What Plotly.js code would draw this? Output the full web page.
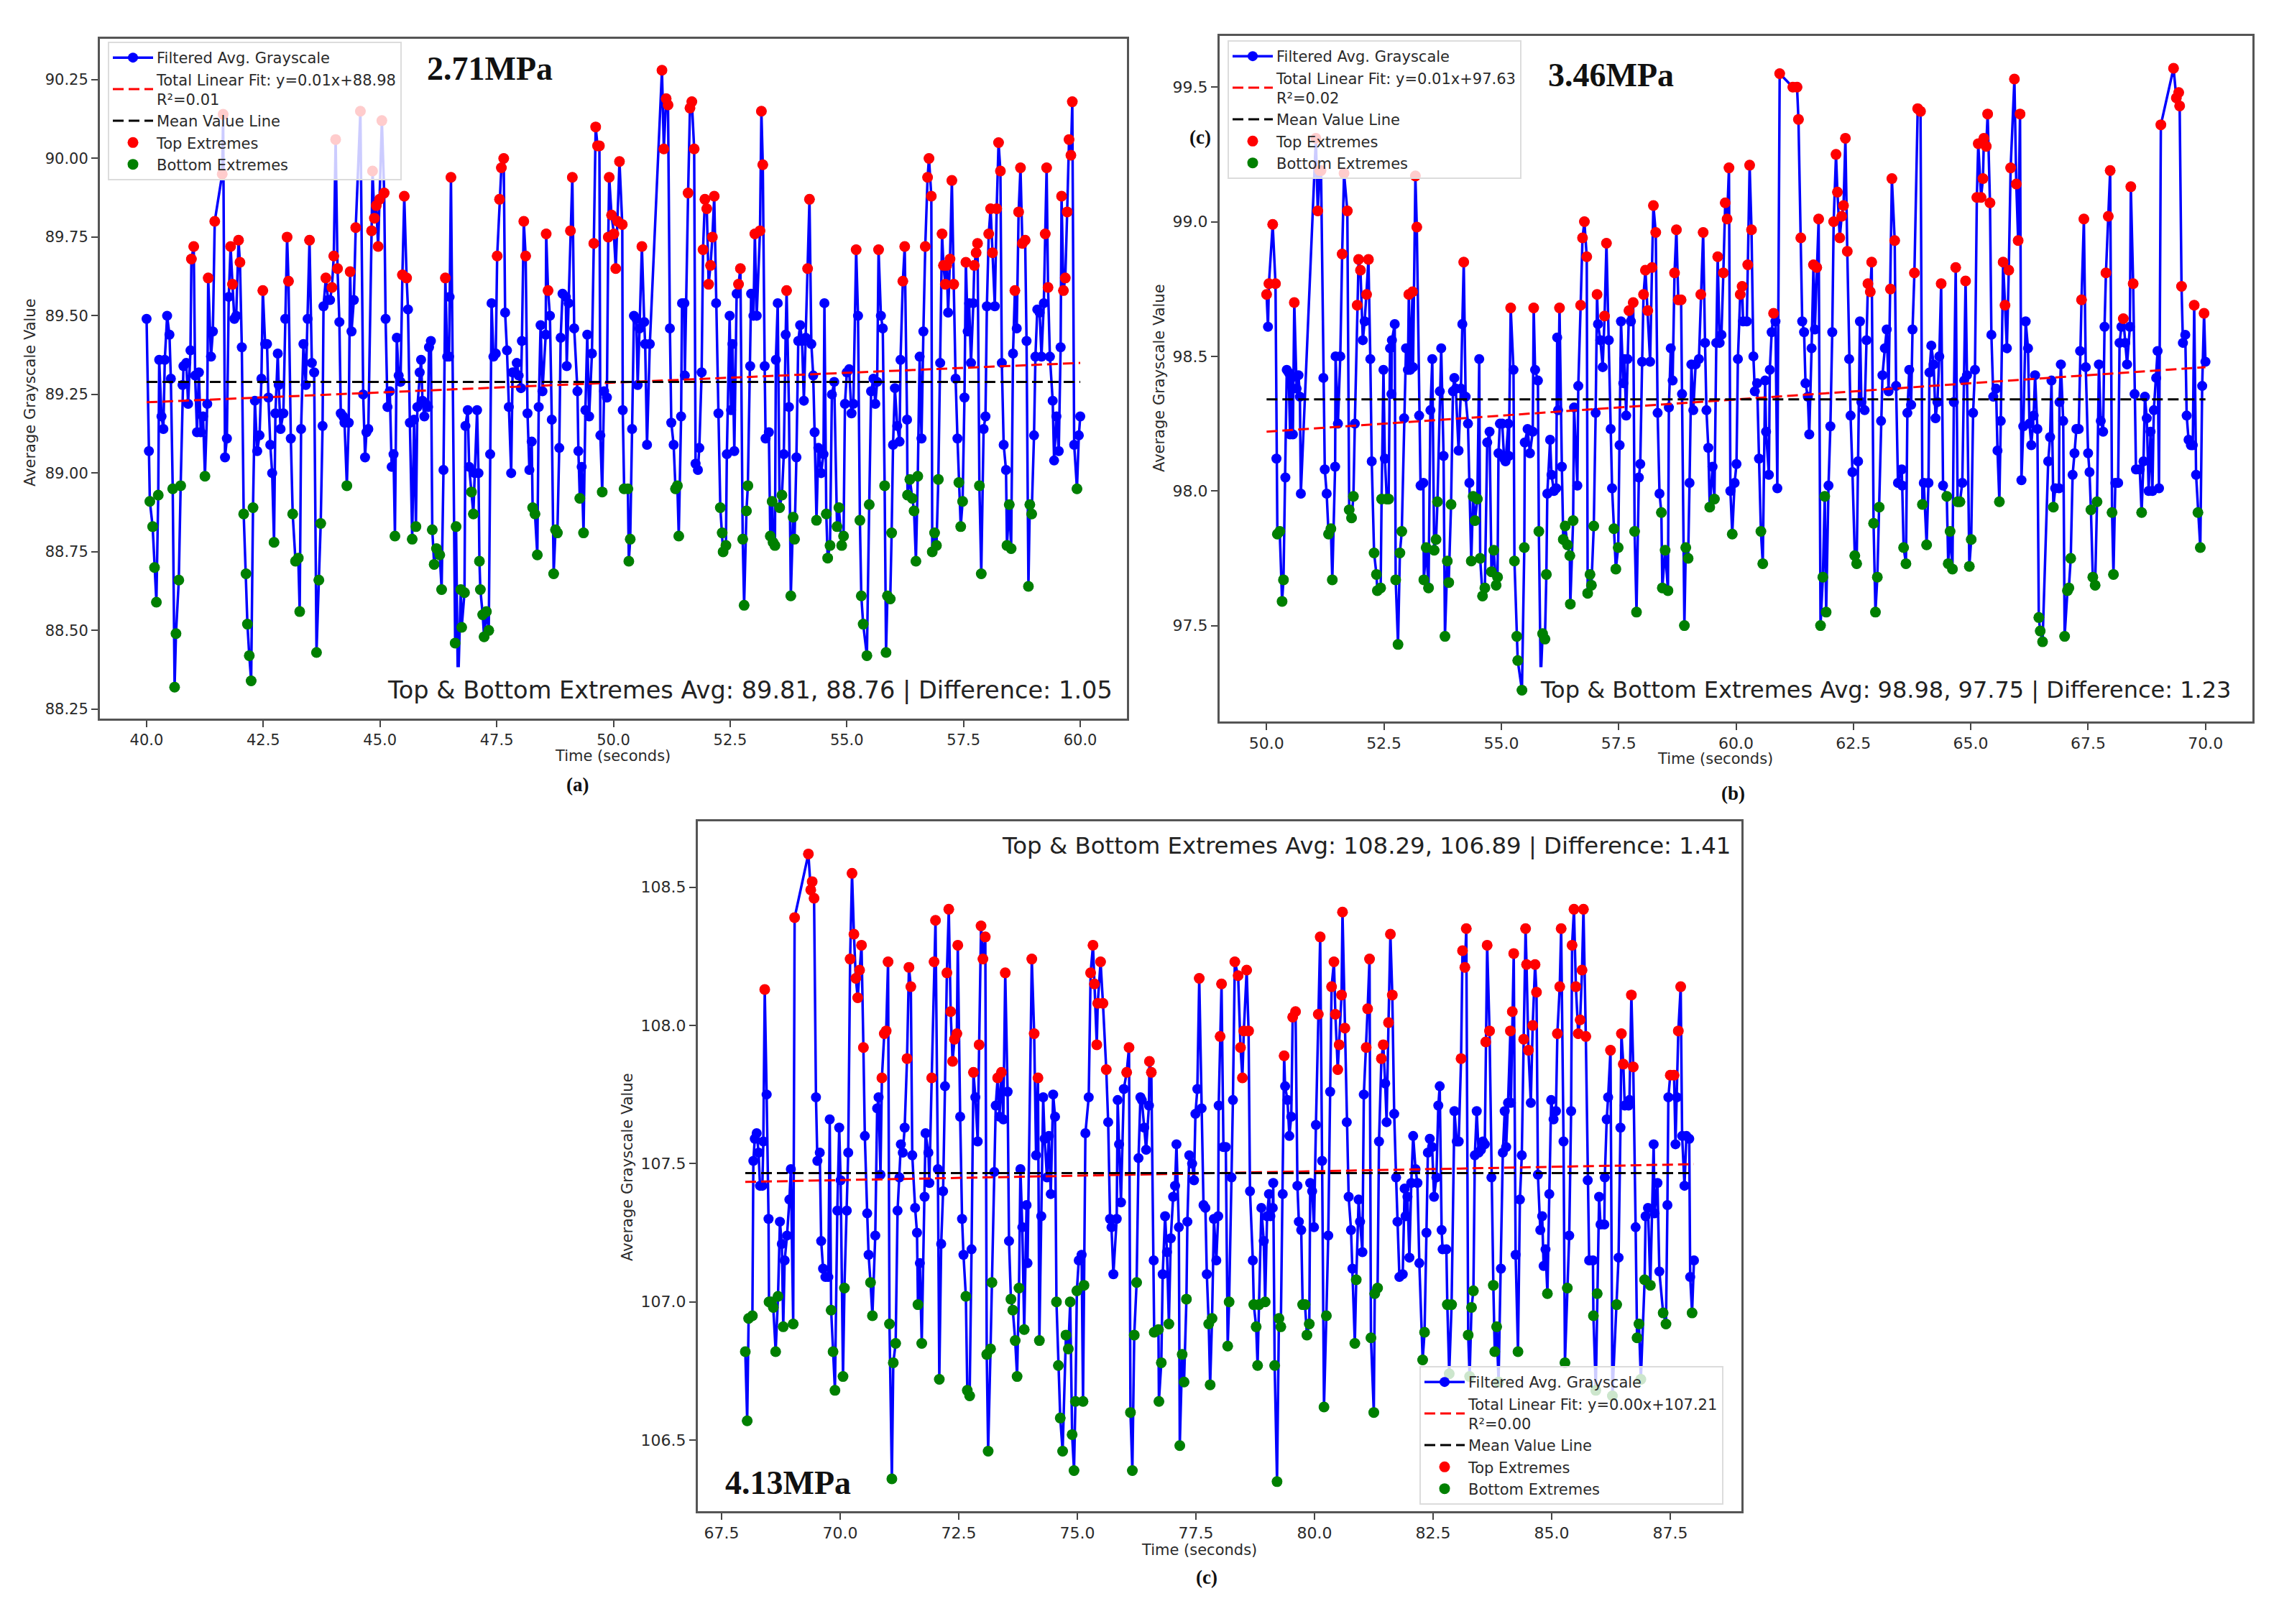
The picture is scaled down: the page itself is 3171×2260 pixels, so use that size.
<!DOCTYPE html>
<html><head><meta charset="utf-8">
<script src="https://cdn.plot.ly/plotly-3.0.1.min.js"></script>
<style>html,body{margin:0;padding:0;background:#fff}#chart{width:3171px;height:2260px}</style>
</head><body><div id="chart"></div>
<script>
const seriesA=[[40.00,89.49],[40.05,89.07],[40.07,88.91],[40.13,88.83],[40.17,88.70],[40.21,88.59],[40.25,88.93],[40.27,89.36],[40.32,89.18],[40.36,89.14],[40.39,89.36],[40.44,89.50],[40.49,89.44],[40.52,89.30],[40.56,88.95],[40.60,88.32],[40.63,88.49],[40.69,88.66],[40.73,88.96],[40.77,89.28],[40.79,89.34],[40.85,89.35],[40.89,89.22],[40.94,89.39],[40.96,89.68],[41.01,89.72],[41.04,89.31],[41.08,89.13],[41.12,89.32],[41.16,89.13],[41.21,89.18],[41.25,88.99],[41.30,89.22],[41.32,89.62],[41.38,89.37],[41.42,89.45],[41.46,89.80],[41.62,89.95],[41.64,90.14],[41.68,89.05],[41.72,89.11],[41.76,89.56],[41.80,89.72],[41.84,89.60],[41.88,89.49],[41.92,89.50],[41.97,89.74],[42.00,89.67],[42.04,89.40],[42.08,88.87],[42.13,88.68],[42.16,88.52],[42.20,88.42],[42.24,88.34],[42.28,88.89],[42.32,89.23],[42.37,89.07],[42.42,89.12],[42.46,89.30],[42.49,89.58],[42.54,89.41],[42.58,89.41],[42.61,89.24],[42.65,89.09],[42.69,89.00],[42.73,88.78],[42.76,89.19],[42.81,89.38],[42.83,89.28],[42.87,89.14],[42.93,89.19],[42.97,89.49],[43.01,89.75],[43.04,89.61],[43.09,89.11],[43.13,88.87],[43.19,88.72],[43.25,88.73],[43.28,88.56],[43.31,89.14],[43.36,89.41],[43.41,89.28],[43.45,89.49],[43.49,89.74],[43.54,89.35],[43.59,89.32],[43.64,88.43],[43.69,88.66],[43.73,88.84],[43.77,89.15],[43.79,89.53],[43.84,89.62],[43.89,89.55],[43.93,89.55],[43.97,89.59],[44.01,89.69],[44.05,90.06],[44.09,89.65],[44.13,89.48],[44.16,89.19],[44.21,89.18],[44.24,89.16],[44.29,88.96],[44.33,89.16],[44.36,89.64],[44.39,89.45],[44.44,89.55],[44.48,89.78],[44.58,90.15],[44.64,89.25],[44.68,89.05],[44.71,89.13],[44.75,89.14],[44.82,89.77],[44.84,89.96],[44.88,89.81],[44.92,89.85],[44.96,89.72],[44.99,89.87],[45.04,90.12],[45.09,89.89],[45.12,89.49],[45.16,89.21],[45.21,89.26],[45.25,89.02],[45.29,89.06],[45.32,88.80],[45.36,89.43],[45.40,89.31],[45.44,89.29],[45.48,89.63],[45.52,89.88],[45.57,89.62],[45.60,89.52],[45.64,89.16],[45.69,88.79],[45.73,89.17],[45.77,88.83],[45.80,89.21],[45.85,89.32],[45.88,89.36],[45.91,89.23],[45.95,89.18],[45.98,89.22],[46.03,89.21],[46.05,89.40],[46.09,89.42],[46.12,88.82],[46.16,88.71],[46.21,88.76],[46.28,88.74],[46.32,88.63],[46.36,89.01],[46.40,89.62],[46.44,89.37],[46.48,89.37],[46.49,89.56],[46.52,89.94],[46.61,88.46],[46.63,88.83],[46.67,88.30],[46.73,88.63],[46.75,88.51],[46.81,88.62],[46.83,89.15],[46.88,89.20],[46.91,89.02],[46.96,88.94],[47.00,88.87],[47.03,89.00],[47.08,89.20],[47.11,89.00],[47.13,88.72],[47.15,88.63],[47.20,88.55],[47.23,88.48],[47.28,88.56],[47.33,88.50],[47.36,89.06],[47.39,89.54],[47.43,89.37],[47.48,89.38],[47.51,89.69],[47.56,89.87],[47.60,89.97],[47.65,90.00],[47.68,89.51],[47.72,89.39],[47.76,89.21],[47.81,89.00],[47.84,89.32],[47.88,89.32],[47.93,89.35],[47.97,89.31],[48.02,89.27],[48.04,89.42],[48.08,89.80],[48.12,89.69],[48.16,89.19],[48.20,89.01],[48.25,89.10],[48.27,88.89],[48.32,88.87],[48.37,88.74],[48.40,89.21],[48.44,89.47],[48.48,89.26],[48.55,89.44],[48.56,89.76],[48.60,89.58],[48.64,89.50],[48.68,89.17],[48.72,88.68],[48.76,88.82],[48.80,88.81],[48.84,89.08],[48.87,89.43],[48.91,89.57],[48.98,89.56],[49.00,89.34],[49.04,89.54],[49.08,89.77],[49.12,89.94],[49.16,89.46],[49.23,89.26],[49.25,89.07],[49.28,88.92],[49.32,89.02],[49.36,88.81],[49.40,89.20],[49.44,89.44],[49.48,89.18],[49.54,89.38],[49.58,89.73],[49.62,90.10],[49.66,90.04],[49.70,90.04],[49.72,89.12],[49.76,88.94],[49.80,89.26],[49.86,89.24],[49.89,89.75],[49.91,89.94],[49.96,89.82],[50.01,89.76],[50.05,89.65],[50.09,89.80],[50.13,89.99],[50.19,89.79],[50.20,89.20],[50.23,88.95],[50.31,88.95],[50.33,88.72],[50.36,88.79],[50.40,89.14],[50.44,89.50],[50.49,89.49],[50.52,89.28],[50.56,89.46],[50.61,89.72],[50.66,89.48],[50.68,89.41],[50.72,89.09],[50.78,89.41],[51.04,90.28],[51.08,90.03],[51.13,90.19],[51.17,90.17],[51.21,89.46],[51.24,89.16],[51.29,89.09],[51.33,88.95],[51.37,88.96],[51.40,88.80],[51.45,89.18],[51.47,89.54],[51.52,89.54],[51.53,89.31],[51.60,89.89],[51.64,90.16],[51.68,90.18],[51.73,90.03],[51.76,89.03],[51.81,89.01],[51.84,89.08],[51.89,89.32],[51.92,89.71],[51.96,89.87],[52.00,89.84],[52.04,89.60],[52.08,89.66],[52.12,89.75],[52.16,89.88],[52.20,89.54],[52.25,89.19],[52.29,88.89],[52.33,88.81],[52.35,88.75],[52.41,88.77],[52.43,89.06],[52.49,89.50],[52.52,89.20],[52.55,89.41],[52.59,89.07],[52.64,89.57],[52.68,89.60],[52.72,89.65],[52.77,88.79],[52.80,88.58],[52.85,88.88],[52.88,88.96],[52.93,89.34],[52.95,89.57],[53.00,89.50],[53.03,89.76],[53.07,89.50],[53.14,89.77],[53.17,90.15],[53.20,89.98],[53.24,89.34],[53.26,89.11],[53.33,89.13],[53.36,88.80],[53.40,88.91],[53.42,88.78],[53.46,88.77],[53.48,89.36],[53.52,89.54],[53.56,88.89],[53.61,88.93],[53.65,89.06],[53.69,89.44],[53.71,89.58],[53.76,89.21],[53.80,88.61],[53.85,88.86],[53.88,88.79],[53.92,89.05],[53.96,89.42],[54.00,89.47],[54.04,89.42],[54.08,89.23],[54.12,89.43],[54.16,89.65],[54.20,89.87],[54.24,89.41],[54.28,89.31],[54.31,89.13],[54.35,88.85],[54.39,89.08],[54.45,89.00],[54.50,89.06],[54.52,89.54],[54.56,88.87],[54.59,88.73],[54.64,88.77],[54.68,89.25],[54.73,89.29],[54.79,88.83],[54.83,88.89],[54.89,88.77],[54.93,88.80],[54.96,89.22],[55.00,89.32],[55.05,89.33],[55.10,89.19],[55.14,89.22],[55.20,89.71],[55.24,89.50],[55.28,88.85],[55.31,88.61],[55.35,88.52],[55.43,88.42],[55.48,88.90],[55.52,89.26],[55.57,89.30],[55.61,89.22],[55.65,89.29],[55.68,89.71],[55.73,89.50],[55.77,89.46],[55.81,88.96],[55.84,88.43],[55.87,88.61],[55.93,88.60],[55.96,88.81],[55.99,89.09],[56.03,89.27],[56.08,89.15],[56.13,89.10],[56.15,89.36],[56.20,89.61],[56.24,89.72],[56.29,89.17],[56.30,88.93],[56.35,88.98],[56.40,88.92],[56.44,88.88],[56.48,88.72],[56.52,88.99],[56.56,89.37],[56.60,89.11],[56.64,89.45],[56.68,89.72],[56.73,89.94],[56.76,90.00],[56.81,89.88],[56.83,88.75],[56.88,88.81],[56.92,88.77],[56.96,88.98],[57.00,89.35],[57.04,89.76],[57.07,89.66],[57.11,89.60],[57.14,89.66],[57.17,89.51],[57.21,89.68],[57.25,89.93],[57.29,89.60],[57.33,89.30],[57.37,89.11],[57.40,88.97],[57.44,88.83],[57.48,88.91],[57.52,89.24],[57.55,89.67],[57.59,89.45],[57.62,89.54],[57.66,89.35],[57.71,89.54],[57.73,89.66],[57.77,89.70],[57.80,89.73],[57.84,88.96],[57.88,88.68],[57.93,89.14],[57.97,89.18],[58.00,89.53],[58.04,89.76],[58.08,89.84],[58.12,89.70],[58.17,89.53],[58.21,89.84],[58.25,90.05],[58.29,89.96],[58.32,89.35],[58.36,89.09],[58.41,89.01],[58.43,88.77],[58.48,88.90],[58.52,88.76],[58.56,89.38],[58.60,89.58],[58.64,89.46],[58.68,89.83],[58.72,89.97],[58.76,89.73],[58.82,89.74],[58.85,89.42],[58.89,88.64],[58.92,88.90],[58.96,88.87],[59.01,89.12],[59.04,89.37],[59.08,89.52],[59.13,89.51],[59.17,89.37],[59.22,89.54],[59.25,89.76],[59.28,89.97],[59.31,89.59],[59.35,89.37],[59.41,89.23],[59.44,89.04],[59.49,89.18],[59.54,89.07],[59.58,89.40],[59.60,89.88],[59.64,89.58],[59.68,89.62],[59.72,89.83],[59.76,90.06],[59.80,90.01],[59.83,90.18],[59.87,89.09],[59.93,88.95],[59.97,89.12],[60.00,89.18]];
const seriesB=[[50.00,98.73],[50.03,98.61],[50.05,98.77],[50.13,98.99],[50.19,98.77],[50.21,98.12],[50.23,97.84],[50.28,97.85],[50.33,97.59],[50.36,97.67],[50.40,98.05],[50.43,98.45],[50.47,98.44],[50.50,98.21],[50.53,98.42],[50.56,98.21],[50.59,98.70],[50.64,98.38],[50.68,98.43],[50.71,98.35],[50.73,97.99],[51.05,99.31],[51.09,99.04],[51.13,99.19],[51.16,99.19],[51.21,98.42],[51.24,98.08],[51.28,97.99],[51.32,97.84],[51.37,97.86],[51.40,97.67],[51.46,98.09],[51.47,98.50],[51.52,98.25],[51.57,98.50],[51.61,98.88],[51.65,99.18],[51.72,99.04],[51.76,97.93],[51.81,97.90],[51.85,97.98],[51.88,98.25],[51.93,98.69],[51.96,98.86],[52.00,98.82],[52.05,98.56],[52.09,98.63],[52.13,98.73],[52.17,98.86],[52.21,98.49],[52.24,98.11],[52.29,97.77],[52.34,97.69],[52.36,97.63],[52.43,97.64],[52.45,97.97],[52.49,98.45],[52.52,98.12],[52.56,97.97],[52.60,97.97],[52.63,98.53],[52.66,98.36],[52.67,98.56],[52.73,98.62],[52.75,97.67],[52.80,97.43],[52.84,97.77],[52.88,97.85],[52.93,98.27],[52.97,98.53],[53.01,98.45],[53.03,98.73],[53.06,98.45],[53.11,98.74],[53.12,98.46],[53.17,99.17],[53.20,98.98],[53.25,98.28],[53.28,98.02],[53.34,98.03],[53.35,97.67],[53.40,97.79],[53.45,97.64],[53.49,98.30],[53.53,98.49],[53.57,97.78],[53.61,97.82],[53.64,97.96],[53.69,98.37],[53.72,98.53],[53.77,98.13],[53.80,97.46],[53.85,97.74],[53.88,97.66],[53.93,97.95],[53.97,98.37],[54.00,98.42],[54.03,98.38],[54.09,98.15],[54.14,98.38],[54.17,98.62],[54.20,98.85],[54.24,98.35],[54.29,98.25],[54.32,98.03],[54.36,97.74],[54.40,97.98],[54.44,97.89],[54.49,97.97],[54.53,98.49],[54.55,97.75],[54.60,97.61],[54.65,97.64],[54.70,98.18],[54.75,98.22],[54.79,97.70],[54.84,97.78],[54.89,97.65],[54.92,97.68],[54.94,98.14],[54.97,98.25],[55.02,98.25],[55.06,98.12],[55.09,98.11],[55.15,98.25],[55.16,98.13],[55.20,98.68],[55.26,98.45],[55.28,97.74],[55.33,97.46],[55.35,97.37],[55.44,97.26],[55.49,97.79],[55.50,98.18],[55.56,98.23],[55.61,98.14],[55.67,98.22],[55.69,98.68],[55.72,98.45],[55.78,98.41],[55.80,97.85],[55.84,97.30],[55.88,97.47],[55.93,97.45],[55.96,97.69],[55.98,97.99],[56.04,98.19],[56.07,98.06],[56.12,98.00],[56.17,98.01],[56.19,98.57],[56.21,98.30],[56.24,98.68],[56.29,98.09],[56.32,97.82],[56.36,97.87],[56.41,97.80],[56.46,97.76],[56.47,97.58],[56.53,97.89],[56.55,98.31],[56.62,98.02],[56.64,98.39],[56.69,98.69],[56.73,98.94],[56.77,99.00],[56.82,98.87],[56.84,97.62],[56.89,97.69],[56.92,97.65],[56.97,97.87],[57.01,98.29],[57.04,98.73],[57.06,98.62],[57.11,98.56],[57.16,98.46],[57.20,98.65],[57.24,98.92],[57.29,98.56],[57.33,98.23],[57.36,98.01],[57.40,97.86],[57.44,97.71],[57.49,97.79],[57.52,98.17],[57.55,98.63],[57.60,98.40],[57.62,98.49],[57.66,98.28],[57.69,98.49],[57.72,98.67],[57.76,98.63],[57.81,98.70],[57.84,97.85],[57.88,97.55],[57.93,98.05],[57.96,98.10],[58.00,98.48],[58.03,98.73],[58.07,98.82],[58.12,98.67],[58.17,98.48],[58.21,98.83],[58.24,99.06],[58.29,98.96],[58.33,98.29],[58.37,97.99],[58.41,97.92],[58.43,97.64],[58.49,97.78],[58.55,97.63],[58.57,98.31],[58.61,98.53],[58.65,98.41],[58.69,98.81],[58.73,98.97],[58.77,98.71],[58.83,98.71],[58.85,98.36],[58.90,97.50],[58.93,97.79],[58.98,97.75],[59.01,98.03],[59.05,98.47],[59.09,98.30],[59.14,98.47],[59.21,98.49],[59.25,98.73],[59.30,98.96],[59.34,98.55],[59.37,98.30],[59.41,98.16],[59.44,97.94],[59.50,98.09],[59.54,97.97],[59.58,98.55],[59.61,98.87],[59.65,98.55],[59.69,98.58],[59.73,98.81],[59.77,99.07],[59.81,99.01],[59.85,99.20],[59.88,98.00],[59.92,97.84],[59.97,98.03],[60.01,98.10],[60.04,98.49],[60.09,98.73],[60.13,98.76],[60.15,98.63],[60.23,98.63],[60.25,98.84],[60.29,99.21],[60.33,98.97],[60.37,98.50],[60.40,98.37],[60.45,98.40],[60.49,98.12],[60.53,97.85],[60.57,97.73],[60.62,98.41],[60.64,98.22],[60.70,98.06],[60.72,98.45],[60.76,98.59],[60.80,98.66],[60.84,98.63],[60.88,98.01],[60.93,99.55],[61.21,99.50],[61.30,99.50],[61.33,99.38],[61.38,98.94],[61.41,98.63],[61.45,98.59],[61.48,98.40],[61.53,98.35],[61.56,98.21],[61.61,98.53],[61.65,98.84],[61.68,98.60],[61.72,98.83],[61.76,99.01],[61.80,97.50],[61.85,97.68],[61.89,97.98],[61.92,97.55],[61.97,98.02],[62.01,98.24],[62.05,98.59],[62.08,99.00],[62.13,99.25],[62.16,99.11],[62.21,98.94],[62.25,99.02],[62.29,99.06],[62.33,99.31],[62.37,98.89],[62.41,98.49],[62.44,98.28],[62.48,98.07],[62.53,97.76],[62.57,97.73],[62.60,98.11],[62.64,98.63],[62.67,98.33],[62.74,98.30],[62.78,98.56],[62.81,98.77],[62.86,98.74],[62.89,98.85],[62.93,97.88],[62.97,97.55],[63.01,97.68],[63.05,97.94],[63.09,98.26],[63.12,98.43],[63.17,98.53],[63.21,98.60],[63.25,98.37],[63.29,98.75],[63.32,99.16],[63.38,98.93],[63.41,98.39],[63.45,98.03],[63.53,98.08],[63.54,98.02],[63.57,97.79],[63.62,97.73],[63.65,98.29],[63.69,98.45],[63.73,98.32],[63.76,98.60],[63.80,98.81],[63.87,99.42],[63.93,99.41],[63.97,97.95],[64.00,98.03],[64.06,97.80],[64.10,98.03],[64.12,98.44],[64.16,98.54],[64.21,98.47],[64.25,98.27],[64.29,98.33],[64.33,98.50],[64.37,98.77],[64.41,98.02],[64.49,97.98],[64.52,97.73],[64.56,97.85],[64.61,97.71],[64.64,98.33],[64.68,98.83],[64.72,97.96],[64.77,97.96],[64.82,98.03],[64.86,98.41],[64.89,98.78],[64.92,98.43],[64.97,97.72],[65.01,97.82],[65.05,98.29],[65.09,98.45],[65.13,99.09],[65.16,99.29],[65.22,99.09],[65.26,99.16],[65.28,99.31],[65.33,99.28],[65.36,99.40],[65.41,99.07],[65.44,98.58],[65.48,98.35],[65.54,98.38],[65.57,98.15],[65.61,97.96],[65.64,98.26],[65.69,98.85],[65.73,98.69],[65.77,98.53],[65.81,98.82],[65.85,99.20],[65.93,99.53],[65.97,99.14],[66.01,98.93],[66.05,99.40],[66.08,98.04],[66.12,98.24],[66.17,98.63],[66.22,98.53],[66.25,98.25],[66.29,98.17],[66.34,98.28],[66.37,98.43],[66.42,98.23],[66.45,97.53],[66.48,97.48],[66.53,97.44],[66.65,98.11],[66.69,98.20],[66.72,98.41],[66.76,97.94],[66.80,98.01],[66.88,98.01],[66.89,98.33],[66.92,98.47],[66.97,98.26],[67.00,97.46],[67.06,97.63],[67.09,97.64],[67.13,97.75],[67.17,98.06],[67.21,98.14],[67.25,98.23],[67.30,98.23],[67.33,98.52],[67.36,98.71],[67.41,99.01],[67.45,98.46],[67.50,98.14],[67.53,98.07],[67.56,97.93],[67.60,97.68],[67.65,97.65],[67.69,97.96],[67.73,98.47],[67.77,98.26],[67.82,98.22],[67.85,98.61],[67.88,98.81],[67.93,99.02],[67.97,99.19],[68.01,97.92],[68.04,97.69],[68.08,98.03],[68.14,98.03],[68.17,98.55],[68.21,98.61],[68.25,98.64],[68.29,98.55],[68.33,98.47],[68.39,98.61],[68.41,99.13],[68.46,98.77],[68.49,98.36],[68.52,98.08],[68.60,98.08],[68.64,97.92],[68.68,98.11],[68.71,98.35],[68.75,98.27],[68.79,98.00],[68.83,98.22],[68.87,98.00],[68.90,98.30],[68.95,98.42],[68.98,98.52],[69.01,98.01],[69.05,99.36],[69.32,99.57],[69.38,99.46],[69.43,99.48],[69.45,99.43],[69.49,98.76],[69.52,98.55],[69.57,98.58],[69.60,98.28],[69.64,98.19],[69.69,98.17],[69.73,98.17],[69.76,98.69],[69.80,98.06],[69.84,97.92],[69.89,97.79],[69.93,98.39],[69.97,98.66],[70.00,98.48]];
const seriesC=[[68.00,106.82],[68.04,106.57],[68.07,106.94],[68.15,106.95],[68.17,107.51],[68.20,107.59],[68.24,107.61],[68.28,107.54],[68.31,107.42],[68.36,107.42],[68.38,107.58],[68.41,108.13],[68.45,107.75],[68.49,107.30],[68.50,107.00],[68.55,107.00],[68.59,106.98],[68.64,106.82],[68.69,107.02],[68.73,107.29],[68.77,107.21],[68.80,106.91],[68.83,107.15],[68.88,107.24],[68.93,107.37],[68.96,107.48],[69.01,106.92],[69.04,108.39],[69.33,108.62],[69.38,108.49],[69.41,108.52],[69.45,108.46],[69.49,107.74],[69.52,107.51],[69.57,107.54],[69.60,107.22],[69.64,107.12],[69.69,107.09],[69.75,107.09],[69.78,107.66],[69.81,106.97],[69.85,106.82],[69.89,106.68],[69.94,107.33],[69.98,107.63],[70.01,107.44],[70.06,106.73],[70.09,107.05],[70.14,107.33],[70.17,107.54],[70.21,108.24],[70.25,108.55],[70.29,108.33],[70.33,108.17],[70.37,108.10],[70.41,108.20],[70.45,108.29],[70.49,107.92],[70.52,107.60],[70.57,107.32],[70.60,107.17],[70.64,107.07],[70.68,106.95],[70.74,107.24],[70.78,107.70],[70.81,107.74],[70.85,107.46],[70.88,107.81],[70.93,107.97],[70.97,107.98],[71.01,108.23],[71.04,106.92],[71.09,106.36],[71.12,106.78],[71.17,106.85],[71.21,107.33],[71.25,107.45],[71.28,107.57],[71.32,107.54],[71.36,107.63],[71.41,107.88],[71.45,108.21],[71.49,108.14],[71.52,107.53],[71.58,107.34],[71.62,107.25],[71.64,106.99],[71.68,107.14],[71.72,106.85],[71.78,107.38],[71.80,107.61],[71.86,107.54],[71.88,107.43],[71.93,107.81],[71.98,108.23],[72.01,108.38],[72.06,107.48],[72.09,106.72],[72.13,107.21],[72.17,107.40],[72.21,107.78],[72.25,108.19],[72.29,108.42],[72.33,108.05],[72.37,107.87],[72.41,107.95],[72.46,107.97],[72.48,108.29],[72.53,107.67],[72.57,107.30],[72.60,107.17],[72.65,107.02],[72.68,106.68],[72.73,106.66],[72.77,107.19],[72.81,107.83],[72.85,107.74],[72.90,107.58],[72.93,107.93],[72.97,108.36],[73.01,108.24],[73.06,108.32],[73.09,106.81],[73.12,106.46],[73.17,106.83],[73.20,107.07],[73.25,107.47],[73.28,107.71],[73.32,107.81],[73.36,107.67],[73.40,107.83],[73.44,107.66],[73.48,108.19],[73.53,107.76],[73.56,107.22],[73.60,107.01],[73.64,106.97],[73.69,106.86],[73.73,106.73],[73.77,107.05],[73.80,107.48],[73.84,107.27],[73.88,106.90],[73.93,107.35],[73.95,107.14],[74.04,108.24],[74.09,107.97],[74.13,107.53],[74.17,107.81],[74.20,106.86],[74.24,107.31],[74.28,107.74],[74.31,107.59],[74.36,107.45],[74.40,107.60],[74.44,107.39],[74.49,107.75],[74.53,107.67],[74.56,107.00],[74.60,106.77],[74.64,106.58],[74.69,106.46],[74.76,106.88],[74.81,106.83],[74.85,107.00],[74.89,106.52],[74.93,106.39],[74.96,106.64],[74.99,107.04],[75.03,107.15],[75.09,107.17],[75.12,106.64],[75.14,107.06],[75.17,107.61],[75.24,107.74],[75.28,108.19],[75.33,108.29],[75.36,108.15],[75.41,107.93],[75.43,108.08],[75.49,108.23],[75.54,108.08],[75.61,107.84],[75.65,107.65],[75.69,107.30],[75.72,107.27],[75.76,107.10],[75.83,107.30],[75.85,107.73],[75.88,107.57],[75.92,107.36],[75.98,107.77],[76.04,107.83],[76.09,107.92],[76.12,106.60],[76.16,106.39],[76.20,106.88],[76.25,107.07],[76.29,107.52],[76.33,107.74],[76.36,107.73],[76.41,107.63],[76.45,107.55],[76.51,107.71],[76.52,107.87],[76.56,107.83],[76.61,107.15],[76.62,106.89],[76.71,106.90],[76.72,106.64],[76.77,106.78],[76.80,107.10],[76.85,107.31],[76.89,107.18],[76.93,106.92],[76.97,107.23],[77.02,107.38],[77.06,107.42],[77.09,107.57],[77.14,107.27],[77.16,106.48],[77.21,106.81],[77.25,106.71],[77.30,107.01],[77.32,107.29],[77.36,107.53],[77.42,107.50],[77.46,107.44],[77.49,107.68],[77.53,107.77],[77.57,108.17],[77.62,107.70],[77.66,107.35],[77.70,107.34],[77.73,107.10],[77.77,106.92],[77.80,106.70],[77.84,106.94],[77.88,107.30],[77.93,107.15],[77.97,107.31],[77.98,107.71],[78.01,107.96],[78.04,108.15],[78.08,107.56],[78.13,107.56],[78.17,106.84],[78.20,107.00],[78.25,107.45],[78.28,107.73],[78.32,108.23],[78.39,108.18],[78.44,107.92],[78.48,107.81],[78.51,107.98],[78.57,108.20],[78.61,107.98],[78.64,107.40],[78.70,107.15],[78.72,106.99],[78.77,106.91],[78.80,106.77],[78.83,106.99],[78.88,107.34],[78.93,107.22],[78.96,107.00],[79.00,107.31],[79.04,107.39],[79.07,107.31],[79.12,107.34],[79.13,107.43],[79.16,106.77],[79.21,106.35],[79.25,106.94],[79.29,106.91],[79.33,107.39],[79.36,107.89],[79.38,107.78],[79.43,107.73],[79.47,107.60],[79.51,107.67],[79.54,108.03],[79.60,108.05],[79.64,107.42],[79.67,107.29],[79.72,107.26],[79.75,106.99],[79.80,106.99],[79.84,106.88],[79.89,106.92],[79.91,107.43],[79.95,107.40],[79.99,107.27],[80.03,107.64],[80.08,108.04],[80.12,108.32],[80.16,107.51],[80.20,106.62],[80.25,106.95],[80.29,107.24],[80.33,107.76],[80.36,108.14],[80.41,108.23],[80.44,108.04],[80.49,107.84],[80.52,107.93],[80.57,108.11],[80.59,108.41],[80.64,107.99],[80.68,107.65],[80.72,107.38],[80.77,107.26],[80.80,107.12],[80.85,106.85],[80.88,107.08],[80.93,107.37],[80.96,107.29],[81.01,107.18],[81.04,107.75],[81.09,107.92],[81.12,108.06],[81.16,108.24],[81.19,106.87],[81.25,106.60],[81.27,107.03],[81.33,107.05],[81.36,107.58],[81.41,107.88],[81.45,107.93],[81.49,107.79],[81.52,107.65],[81.56,108.01],[81.60,108.33],[81.64,108.11],[81.68,107.68],[81.72,107.45],[81.75,107.29],[81.79,107.09],[81.86,107.10],[81.90,107.41],[81.92,107.31],[81.96,107.38],[82.00,107.16],[82.04,107.43],[82.08,107.60],[82.13,107.48],[82.17,107.43],[82.21,107.14],[82.28,106.79],[82.32,106.89],[82.36,107.25],[82.39,107.54],[82.43,107.59],[82.48,107.56],[82.52,107.38],[82.57,107.45],[82.61,107.71],[82.64,107.78],[82.68,107.26],[82.70,107.19],[82.78,107.19],[82.80,106.99],[82.84,106.74],[82.89,106.99],[82.95,107.69],[83.00,107.58],[83.04,107.58],[83.09,107.88],[83.12,108.27],[83.17,108.21],[83.20,108.35],[83.24,106.88],[83.27,106.73],[83.31,106.98],[83.35,107.04],[83.38,107.53],[83.42,107.69],[83.46,107.54],[83.51,107.55],[83.55,107.58],[83.59,107.57],[83.61,107.94],[83.64,108.29],[83.69,107.98],[83.73,107.45],[83.77,107.06],[83.80,106.82],[83.84,106.91],[83.88,106.71],[83.93,107.12],[83.97,107.54],[84.01,107.69],[84.04,107.56],[84.08,107.72],[84.13,107.98],[84.14,107.72],[84.17,108.05],[84.20,108.26],[84.24,107.17],[84.29,106.82],[84.33,107.37],[84.37,107.53],[84.41,107.95],[84.45,108.35],[84.47,108.22],[84.51,107.91],[84.56,107.72],[84.60,108.00],[84.65,108.22],[84.68,108.12],[84.71,107.46],[84.76,107.26],[84.80,107.31],[84.83,107.13],[84.87,107.19],[84.91,107.03],[84.95,107.39],[84.99,107.73],[85.04,107.66],[85.09,107.69],[85.12,107.97],[85.17,108.14],[85.20,108.35],[85.25,107.58],[85.28,106.78],[85.33,107.05],[85.37,107.24],[85.41,107.69],[85.43,108.29],[85.47,108.42],[85.51,108.14],[85.56,107.97],[85.60,108.02],[85.64,108.20],[85.67,108.42],[85.72,107.96],[85.76,107.44],[85.79,107.15],[85.87,107.15],[85.88,106.95],[85.93,106.68],[85.96,107.03],[86.00,107.38],[86.03,107.28],[86.11,107.28],[86.12,107.45],[86.16,107.66],[86.19,107.74],[86.24,107.91],[86.28,106.66],[86.37,106.99],[86.41,107.16],[86.45,107.63],[86.47,107.97],[86.51,107.86],[86.54,107.71],[86.62,107.71],[86.64,107.73],[86.68,108.11],[86.72,107.85],[86.77,107.27],[86.80,106.87],[86.84,106.92],[86.88,106.72],[86.96,107.08],[86.98,107.31],[87.03,107.34],[87.08,107.06],[87.15,107.57],[87.17,107.32],[87.23,107.43],[87.27,107.11],[87.35,106.96],[87.41,106.92],[87.44,107.35],[87.46,107.74],[87.50,107.82],[87.58,107.82],[87.61,107.57],[87.64,107.74],[87.67,107.98],[87.72,108.14],[87.75,107.60],[87.80,107.42],[87.84,107.60],[87.90,107.59],[87.92,107.09],[87.96,106.96],[88.00,107.15]];

const fitTimeA=[40,60], fitValueA=[89.225,89.35], meanValueA=89.29, topLimitA=89.575, bottomLimitA=88.995;
const fitTimeB=[50,70], fitValueB=[98.22,98.46], meanValueB=98.34, topLimitB=98.635, bottomLimitB=97.985;
const fitTimeC=[68,88], fitValueC=[107.434,107.498], meanValueC=107.466, topLimitC=107.80, bottomLimitC=107.085;
const fitNames=['Total Linear Fit: y=0.01x+88.98<br>R²=0.01','Total Linear Fit: y=0.01x+97.63<br>R²=0.02','Total Linear Fit: y=0.00x+107.21<br>R²=0.00'];
const statTexts=['Top & Bottom Extremes Avg: 89.81, 88.76 | Difference: 1.05','Top & Bottom Extremes Avg: 98.98, 97.75 | Difference: 1.23','Top & Bottom Extremes Avg: 108.29, 106.89 | Difference: 1.41'];
const pressureLabels=['2.71MPa','3.46MPa','4.13MPa'];
const panelLabels=['(a)','(b)','(c)'];
const W=3171,H=2260,px=x=>x/W,py=y=>1-y/H;
const sans='"DejaVu Sans", sans-serif',serif='"Liberation Serif", serif',ink='#2a2a2a';
const boxes=[
 {l:139,r:1568,t:54,b:1000,xr:[39,61],yr:[88.22,90.38],yd:0.25,yf:'.2f',leg:[150,58],stat:[1043,960,33.6],press:[681,95],label:[803,1092],xt:[853,1052],yt:[42,546],tick:21},
 {l:1697,r:3134,t:50,b:1004,xr:[49,71],yr:[97.144,99.69],yd:0.5,yf:'.1f',leg:[1708,56],stat:[2623,960,32],press:[2241,104],label:[2411,1104],xt:[2386,1056],yt:[1613,526],tick:22},
 {l:971,r:2423,t:1143,b:2103,xr:[67,89],yr:[106.243,108.738],yd:0.5,yf:'.1f',leg:[1975,1901],stat:[1901,1177,32.4],press:[1096,2063],label:[1679,2195],xt:[1668,2157],yt:[873,1624],tick:22}
];
const sets=[[seriesA,fitTimeA,fitValueA,meanValueA,topLimitA,bottomLimitA],[seriesB,fitTimeB,fitValueB,meanValueB,topLimitB,bottomLimitB],[seriesC,fitTimeC,fitValueC,meanValueC,topLimitC,bottomLimitC]];
const traces=[],layout={width:W,height:H,margin:{l:0,r:0,t:0,b:0},paper_bgcolor:'#fff',plot_bgcolor:'#fff',font:{family:sans,color:ink},annotations:[]};
sets.forEach((s,i)=>{
 const [ser,ft,fv,mean,top,bot]=s,b=boxes[i],n=i?String(i+1):'',xa='x'+n,ya='y'+n,lg='legend'+n;
 const t=ser.map(p=>p[0]),v=ser.map(p=>p[1]);
 const hi=ser.filter(p=>p[1]>top),lo=ser.filter(p=>p[1]<bot);
 const base={xaxis:xa,yaxis:ya,legend:lg,hoverinfo:'skip'};
 traces.push({...base,name:'Filtered Avg. Grayscale',x:t,y:v,mode:'lines+markers',line:{color:'#0000ff',width:3.5},marker:{color:'#0000ff',size:14}});
 traces.push({...base,name:fitNames[i],x:ft,y:fv,mode:'lines',line:{color:'#ff0000',width:3,dash:'15px,7px'}});
 traces.push({...base,name:'Mean Value Line',x:ft,y:[mean,mean],mode:'lines',line:{color:'#000000',width:3,dash:'15px,7px'}});
 traces.push({...base,name:'Top Extremes',x:hi.map(p=>p[0]),y:hi.map(p=>p[1]),mode:'markers',marker:{color:'#ff0000',size:15}});
 traces.push({...base,name:'Bottom Extremes',x:lo.map(p=>p[0]),y:lo.map(p=>p[1]),mode:'markers',marker:{color:'#008000',size:15}});
 const axisCommon={showgrid:false,zeroline:false,showline:true,mirror:true,linecolor:'#555',linewidth:3,ticks:'outside',ticklen:9,tickwidth:2,tickcolor:'#444',tickfont:{family:sans,size:b.tick,color:ink}};
 layout['xaxis'+n]={...axisCommon,anchor:ya,domain:[px(b.l),px(b.r)],range:b.xr,dtick:2.5,tick0:40,tickformat:'.1f'};
 layout['yaxis'+n]={...axisCommon,anchor:xa,domain:[py(b.b),py(b.t)],range:b.yr,dtick:b.yd,tick0:0,tickformat:b.yf};
 layout[lg]={x:px(b.leg[0]),y:py(b.leg[1]),xanchor:'left',yanchor:'top',xref:'paper',yref:'paper',bgcolor:'rgba(255,255,255,0.8)',bordercolor:'#dcdcdc',borderwidth:2,font:{family:sans,size:21,color:ink},itemwidth:56,traceorder:'normal',tracegroupgap:0};
 const note=(x,y,text,font,extra={})=>layout.annotations.push({xref:'paper',yref:'paper',x:px(x),y:py(y),xanchor:'center',yanchor:'middle',text,showarrow:false,font,...extra});
 note(b.stat[0],b.stat[1],statTexts[i],{family:sans,size:b.stat[2],color:'#222'},{bgcolor:'#fff',borderpad:12});
 note(b.press[0],b.press[1],'<b>'+pressureLabels[i]+'</b>',{family:serif,size:46,color:'#111'});
 note(b.label[0],b.label[1],'<b>'+panelLabels[i]+'</b>',{family:serif,size:27,color:'#111'});
 note(b.xt[0],b.xt[1],'Time (seconds)',{family:sans,size:21,color:ink});
 note(b.yt[0],b.yt[1],'Average Grayscale Value',{family:sans,size:21,color:ink},{textangle:-90});
});
layout.annotations.push({xref:'paper',yref:'paper',x:px(1670),y:py(174),text:'<b>(c)</b>',showarrow:false,font:{family:serif,size:27,color:'#111'}});
Plotly.newPlot('chart',traces,layout,{displayModeBar:false,responsive:false});
</script></body></html>
